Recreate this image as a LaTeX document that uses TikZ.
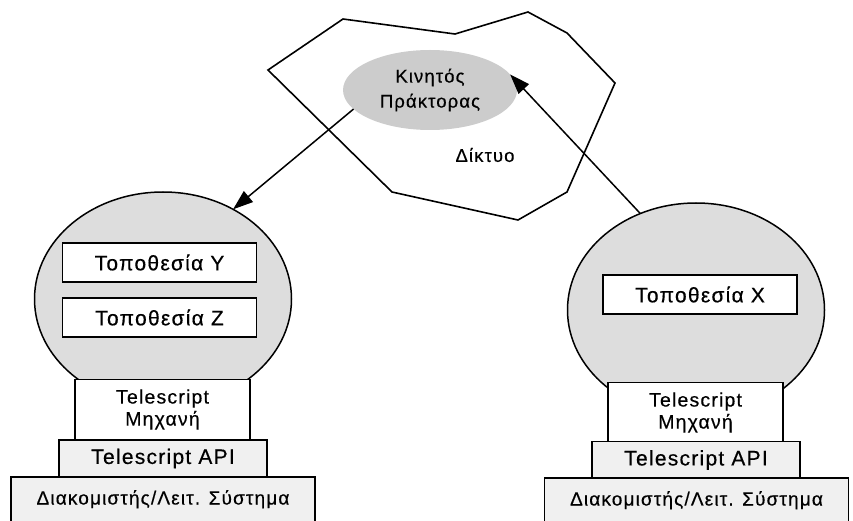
\documentclass[tikz,border=0pt]{standalone}
\usepackage{fontspec}
\setmainfont{Liberation Sans}[LetterSpace=6, FakeBold=0.4]
\usepackage{tikz}
\usetikzlibrary{arrows.meta, shapes.geometric}
\tikzset{
  sphere/.style={ellipse, draw, line width=1.5pt, fill=gray!27,
                 minimum width=257pt, minimum height=214pt, inner sep=0pt, outer sep=0pt},
  site/.style={rectangle, draw, line width=1.5pt, fill=white, inner sep=0pt, outer sep=0pt,
               minimum width=194pt, minimum height=39pt, font=\fontsize{21}{24}\selectfont},
  engine/.style={rectangle, draw, line width=1.5pt, fill=white, inner sep=0pt, outer sep=0pt,
                 minimum width=175pt, minimum height=60pt, align=center,
                 font=\fontsize{19.5}{22}\selectfont},
  api/.style={rectangle, draw, line width=1.5pt, fill=gray!12, inner sep=0pt, outer sep=0pt,
              minimum width=208pt, minimum height=37pt, font=\fontsize{21}{24}\selectfont},
  host/.style={rectangle, draw, line width=1.5pt, fill=gray!12, inner xsep=0pt, inner ysep=0pt,
               outer sep=0pt, minimum width=304pt, text height=27.5pt, text depth=32.5pt,
               anchor=north, font=\fontsize{19}{22}\selectfont},
  agent/.style={ellipse, fill=gray!40, inner sep=0pt, outer sep=0pt,
                minimum width=174pt, minimum height=80pt, align=center,
                font=\fontsize{18.5}{25}\selectfont},
  migr/.style={-{Triangle[length=20pt,width=14pt]}, line width=1.5pt}
}

\begin{document}
\begin{tikzpicture}[x=1pt, y=-1pt]
  \useasboundingbox (0,0) rectangle (853,521);
  % network
  \draw[line width=1.6pt] (268,70) -- (343,19) -- (455,34) -- (528,12) -- (567,33)
    -- (615,83) -- (567,192) -- (518,220) -- (392,192) -- cycle;
  \node[agent] (agent) at (430,90) {Κινητός\\Πράκτορας};
  \node[font=\fontsize{18.5}{22}\selectfont] (net) at (485,155) {Δίκτυο};

  % left host
  \node[sphere] (sphL) at (163,299) {};
  \node[engine] (engL) at (162.5,409.5) {Telescript\\Μηχανή};
  \node[site] (siteY) at (159.5,262.5) {Τοποθεσία Y};
  \node[site] (siteZ) at (159.5,317.5) {Τοποθεσία Z};
  \node[api] (apiL) at (163,458.5) {Telescript API};
  \node[host] (osL) at (163,477) {Διακομιστής/Λειτ. Σύστημα};

  % right host
  \node[sphere] (sphR) at (696,310) {};
  \node[engine] (engR) at (695.5,412.5) {Telescript\\Μηχανή};
  \node[site] (siteX) at (700,294.5) {Τοποθεσία X};
  \node[api] (apiR) at (696,460) {Telescript API};
  \node[host] (osR) at (696.5,478) {Διακομιστής/Λειτ. Σύστημα};

  % migration
  \draw[migr] (agent.194) -- (sphL.52);
  \draw[migr] (sphR.120) -- (agent.11);
\end{tikzpicture}
\end{document}
